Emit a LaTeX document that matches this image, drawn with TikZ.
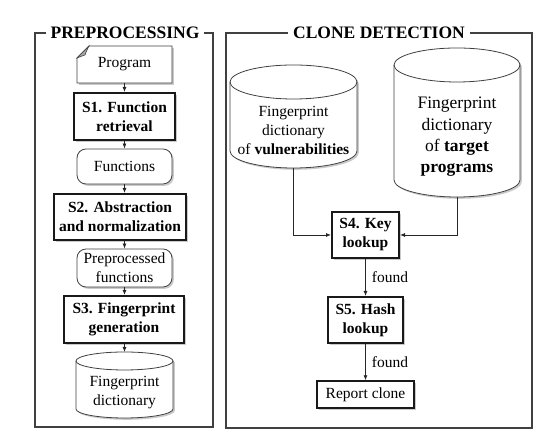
\documentclass[tikz,border=0pt]{standalone}
\usepackage{fontspec}
\setmainfont{Liberation Serif}
\usetikzlibrary{arrows.meta,shadows}
\tikzset{
  x=1pt,y=1pt,
  shad/.style={drop shadow={shadow xshift=1.8pt,shadow yshift=-1.8pt,fill=black!35,opacity=0.6}},
  txt/.style={font=\fontsize{15.5}{19}\selectfont,align=center,inner sep=0pt},
  stepbox/.style={draw=black!90,line width=2pt,fill=white,shad,txt,font=\fontsize{15.5}{19}\selectfont\bfseries},
  databox/.style={draw=black!75,line width=0.8pt,fill=white,rounded corners=9pt,shad,txt},
  plainbox/.style={draw=black!90,line width=1.4pt,fill=white,shad,txt},
  ghost/.style={inner sep=0pt,outer sep=0pt},
  frame/.style={draw=black!75,line width=1.3pt},
  ftitle/.style={fill=white,inner xsep=5pt,inner ysep=2pt,font=\fontsize{17.5}{20}\selectfont\bfseries},
  cylpath/.style={draw=black!75,line width=0.8pt,fill=white,shad},
  arr/.style={draw=black!85,line width=0.8pt,-{Latex[length=5pt,width=4pt]}},
  lbl/.style={font=\fontsize{15.5}{19}\selectfont,inner sep=0pt}
}
\newcommand{\mycyl}[3]{% node name, x radius, y radius
  \path[cylpath] ([yshift=-#3]#1.north west) -- ([yshift=#3]#1.south west)
    arc[start angle=180,end angle=360,x radius=#2,y radius=#3]
    -- ([yshift=-#3]#1.north east)
    arc[start angle=0,end angle=180,x radius=#2,y radius=#3] -- cycle;
  \draw[draw=black!75,line width=0.8pt] ([yshift=-#3]#1.north west)
    arc[start angle=180,end angle=360,x radius=#2,y radius=#3];
}
\begin{document}
\begin{tikzpicture}
\useasboundingbox (0,0) rectangle (555,443);
% frames
\draw[frame] (35,410) rectangle (213,16);
\draw[frame] (226,410) rectangle (532,15);
\node[ftitle] (t1) at (125,410) {PREPROCESSING};
\node[ftitle] (t2) at (379,410) {CLONE DETECTION};

% Program (folded corner)
\node[ghost,minimum width=95pt,minimum height=37pt] (P) at (124.5,378.5) {};
\path[draw=black!75,line width=0.8pt,fill=white,shad]
  ([xshift=12pt]P.north west) -- (P.north east) -- (P.south east) -- (P.south west)
  -- ([yshift=-12pt]P.north west) -- cycle;
\path[fill=black!35,draw=black!75,line width=0.6pt] ([yshift=-12pt]P.north west) -- ([xshift=12pt]P.north west)
  .. controls ([xshift=9pt,yshift=-6pt]P.north west) .. ([xshift=8pt,yshift=-9pt]P.north west)
  .. controls ([xshift=5pt,yshift=-10pt]P.north west) .. cycle;
\node[txt] at (P.center) {Program};

\node[stepbox,minimum width=101pt,minimum height=47pt] (S1) at (124.5,326.5) {S1. Function\\retrieval};
\node[databox,minimum width=95pt,minimum height=35pt] (Fn) at (124.5,276.5) {Functions};
\node[stepbox,minimum width=132pt,minimum height=46pt] (S2) at (120,226) {S2. Abstraction\\and normalization};
\node[databox,minimum width=95pt,minimum height=38pt] (PF) at (124.5,175) {Preprocessed\\functions};
\node[stepbox,minimum width=120pt,minimum height=47pt] (S3) at (124,123.5) {S3. Fingerprint\\generation};

% Fingerprint dictionary (left)
\node[ghost,minimum width=97pt,minimum height=66pt] (FD) at (124.5,58) {};
\mycyl{FD}{48.5pt}{9pt}
\node[txt] at (124.5,50) {Fingerprint\\dictionary};

% left arrows
\draw[arr] (P.south) -- (P.south |- S1.north);
\draw[arr] (S1.south) -- (S1.south |- Fn.north);
\draw[arr] (Fn.south) -- (Fn.south |- S2.north);
\draw[arr] (S2.south -| PF.north) -- (PF.north);
\draw[arr] (PF.south) -- (PF.south |- S3.north);
\draw[arr] (S3.south -| FD.north) -- (FD.north);

% Clone detection
\node[ghost,minimum width=127pt,minimum height=103pt] (V) at (293.5,326.5) {};
\mycyl{V}{63.5pt}{17pt}
\node[txt] at (293.5,313) {Fingerprint\\dictionary\\of \textbf{vulnerabilities}};

\node[ghost,minimum width=126pt,minimum height=149pt] (T) at (457,320.5) {};
\mycyl{T}{63pt}{17pt}
\node[txt,font=\fontsize{17.5}{21.3}\selectfont] at (457,306) {Fingerprint\\dictionary\\of \textbf{target}\\\textbf{programs}};

\node[stepbox,minimum width=67pt,minimum height=46pt] (S4) at (365.5,208) {S4. Key\\lookup};
\node[stepbox,minimum width=75pt,minimum height=46pt] (S5) at (365.5,123) {S5. Hash\\lookup};
\node[plainbox,minimum width=97pt,minimum height=27pt] (R) at (365.5,48.5) {Report clone};

\draw[arr] (V.south) |- (S4.west);
\draw[arr] (T.south) |- (S4.east);
\draw[arr] (S4.south) -- node[lbl,right,xshift=6pt] (f1) {found} (S5.north);
\draw[arr] (S5.south) -- node[lbl,right,xshift=6pt] (f2) {found} (R.north);
\end{tikzpicture}
\end{document}
